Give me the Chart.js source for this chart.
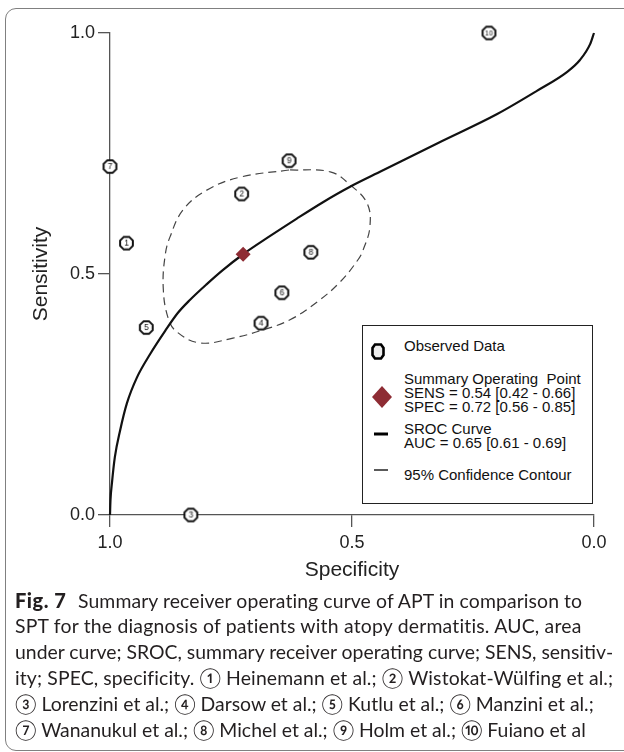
<!DOCTYPE html>
<html lang="en">
<head>
<meta charset="UTF-8">
<title>SROC curve - APT vs SPT</title>
<script src="https://cdn.jsdelivr.net/npm/chart.js"></script>
<style>
    html, body { margin: 0; padding: 0; background: #fff; }
    body {
        width: 624px;
        height: 752px;
        position: relative;
        overflow: hidden;
        font-family: "Liberation Sans", Arial, sans-serif;
    }
    .frame {
        position: absolute;
        left: 5px;
        top: 8px;
        width: 700px;
        height: 743px;
        border: 1.5px solid #808080;
        border-radius: 11px;
        box-sizing: border-box;
    }
    .chart-box {
        position: absolute;
        left: 0;
        top: 0;
        width: 624px;
        height: 590px;
    }
    .legend {
        position: absolute;
        left: 362px;
        top: 325px;
        width: 231px;
        height: 179px;
        border: 1.5px solid #222;
        box-sizing: border-box;
        background: #fff;
        color: #111;
        font-size: 15px;
    }
    .legend .t {
        position: absolute;
        left: 41px;
        line-height: 14px;
        white-space: nowrap;
    }
    .legend svg { position: absolute; }
    .caption {
        position: absolute;
        left: 15px;
        top: 587px;
        font-family: Lato, "Open Sans", sans-serif;
        font-size: 19.4px;
        line-height: 26px;
        color: #231f20;
        white-space: nowrap;
    }
    .caption div { height: 26px; }
    .caption b {
        display: inline-block;
        width: 63px;
        font-weight: 900;
        font-size: 20px;
        letter-spacing: 0.5px;
    }
</style>
</head>
<body>
<div class="frame"></div>
<div class="chart-box"><canvas id="sroc"></canvas></div>

<div class="legend">
    <svg style="left:8px;top:17px" width="14" height="17" viewBox="0 0 14 17">
        <polygon points="4,1.5 10,1.5 12.5,5 12.5,12 10,15.5 4,15.5 1.5,12 1.5,5" fill="#eee" stroke="#000" stroke-width="2.6"/>
    </svg>
    <div class="t" style="top:13px">Observed Data</div>

    <svg style="left:8px;top:59px" width="22" height="24" viewBox="0 0 22 24">
        <polygon points="11,1 21,12 11,23 1,12" fill="#8e2c34"/>
    </svg>
    <div class="t" style="top:46px">Summary Operating&nbsp; Point</div>
    <div class="t" style="top:60px">SENS = 0.54 [0.42 - 0.66]</div>
    <div class="t" style="top:74px">SPEC = 0.72 [0.56 - 0.85]</div>

    <svg style="left:10px;top:105px" width="16" height="6"><line x1="1" y1="3" x2="15" y2="3" stroke="#000" stroke-width="3"/></svg>
    <div class="t" style="top:96px">SROC Curve</div>
    <div class="t" style="top:110px">AUC = 0.65 [0.61 - 0.69]</div>

    <svg style="left:10px;top:141px" width="16" height="6"><line x1="1" y1="3" x2="15" y2="3" stroke="#000" stroke-width="1.3"/></svg>
    <div class="t" style="top:142px">95% Confidence Contour</div>
</div>

<div class="caption">
    <div><b>Fig. 7</b><span style="letter-spacing:0.1px">Summary receiver operating curve of APT in comparison to</span></div>
    <div style="letter-spacing:0.2px">SPT for the diagnosis of patients with atopy dermatitis. AUC, area</div>
    <div>under curve; SROC, summary receiver operating curve; SENS, sensitiv-</div>
    <div style="letter-spacing:0.12px">ity; SPEC, specificity. ① Heinemann et al.; ② Wistokat-Wülfing et al.;</div>
    <div>③ Lorenzini et al.; ④ Darsow et al.; ⑤ Kutlu et al.; ⑥ Manzini et al.;</div>
    <div>⑦ Wananukul et al.; ⑧ Michel et al.; ⑨ Holm et al.; ⑩ Fuiano et al</div>
</div>

<script>
    // observed studies (numbered as in the caption)
    const studyLabels = ['1', '2', '3', '4', '5', '6', '7', '8', '9', '10'];
    const studySpec = [0.966, 0.728, 0.833, 0.688, 0.925, 0.645, 1.0, 0.585, 0.630, 0.217];
    const studySens = [0.564, 0.666, 0.0, 0.398, 0.389, 0.461, 0.723, 0.545, 0.735, 1.0];

    // summary operating point
    const summarySpec = [0.725];
    const summarySens = [0.541];

    // SROC curve
    const curveSpec = [1.0, 0.999, 0.996, 0.990, 0.979, 0.965, 0.944, 0.917, 0.886, 0.860, 0.835, 0.800,
                       0.767, 0.725, 0.669, 0.614, 0.560, 0.504, 0.438, 0.322, 0.200, 0.118, 0.056,
                       0.029, 0.008, 0.0];
    const curveSens = [0.0, 0.031, 0.066, 0.120, 0.176, 0.232, 0.286, 0.334, 0.382, 0.419, 0.446, 0.479,
                       0.508, 0.541, 0.579, 0.615, 0.649, 0.681, 0.714, 0.772, 0.832, 0.880, 0.919,
                       0.944, 0.977, 1.0];

    // 95% confidence contour
    const contourSpec = [0.628, 0.545, 0.504, 0.469, 0.463, 0.477, 0.488, 0.525, 0.572, 0.628, 0.684,
                         0.746, 0.814, 0.862, 0.880, 0.890, 0.886, 0.876, 0.849, 0.800, 0.731, 0.628];
    const contourSens = [0.716, 0.712, 0.685, 0.647, 0.598, 0.550, 0.529, 0.483, 0.442, 0.405, 0.384,
                         0.367, 0.357, 0.380, 0.409, 0.471, 0.539, 0.577, 0.633, 0.674, 0.701, 0.716];

    const xTicks = [1.0, 0.5, 0.0];
    const yTicks = [0.0, 0.5, 1.0];

    const FONT = '"Liberation Sans", Arial, sans-serif';

    function toPoints(xs, ys) {
        return xs.map((x, i) => ({ x: x, y: ys[i] }));
    }

    // small octagon with the study number inside
    function makeMarker(label) {
        const c = document.createElement('canvas');
        c.width = 17;
        c.height = 17;
        const g = c.getContext('2d');
        const cx = 8.5, cy = 8.5, r = 6.9;
        g.beginPath();
        for (let i = 0; i < 8; i++) {
            const a = Math.PI / 8 + i * Math.PI / 4;
            const px = cx + r * Math.cos(a), py = cy + r * Math.sin(a);
            if (i === 0) g.moveTo(px, py); else g.lineTo(px, py);
        }
        g.closePath();
        g.fillStyle = '#fff';
        g.fill();
        g.lineWidth = 2;
        g.strokeStyle = '#111';
        g.stroke();
        g.fillStyle = '#111';
        g.textAlign = 'center';
        g.textBaseline = 'middle';
        g.font = (label.length > 1 ? '7px ' : '8.5px ') + FONT;
        g.fillText(label, cx, cy + 0.5);
        return c;
    }
    const markers = studyLabels.map(makeMarker);

    const axisColor = '#555';

    new Chart(document.getElementById('sroc'), {
        type: 'scatter',
        data: {
            datasets: [
                {
                    label: 'Summary Operating Point',
                    data: toPoints(summarySpec, summarySens),
                    pointStyle: 'rectRot',
                    pointRadius: 7.5,
                    backgroundColor: '#8e2c34',
                    borderColor: '#8e2c34',
                    borderWidth: 0,
                    clip: false,
                    order: 0
                },
                {
                    label: 'Observed Data',
                    data: toPoints(studySpec, studySens),
                    pointStyle: ctx => markers[ctx.dataIndex],
                    pointRadius: 6.5,
                    clip: false,
                    order: 1
                },
                {
                    label: 'SROC Curve',
                    data: toPoints(curveSpec, curveSens),
                    showLine: true,
                    pointRadius: 0,
                    borderColor: '#111',
                    borderWidth: 2.2,
                    cubicInterpolationMode: 'monotone',
                    clip: false,
                    order: 2
                },
                {
                    label: '95% Confidence Contour',
                    data: toPoints(contourSpec, contourSens),
                    showLine: true,
                    pointRadius: 0,
                    borderColor: '#444',
                    borderWidth: 1.2,
                    borderDash: [8, 5],
                    tension: 0.4,
                    clip: false,
                    order: 3
                }
            ]
        },
        options: {
            responsive: true,
            maintainAspectRatio: false,
            animation: false,
            layout: { padding: { left: 0, right: 30, top: 33, bottom: 0 } },
            plugins: {
                legend: { display: false },
                tooltip: { enabled: false }
            },
            scales: {
                x: {
                    type: 'linear',
                    reverse: true,
                    min: 0,
                    max: 1,
                    afterBuildTicks: s => { s.ticks = xTicks.map(v => ({ value: v })); },
                    afterFit: s => { s.height = 75; },
                    grid: { drawOnChartArea: false, drawTicks: true, tickLength: 12, color: axisColor, lineWidth: 1.3 },
                    border: { display: true, color: axisColor, width: 1.3 },
                    ticks: {
                        color: '#222',
                        padding: 5,
                        maxRotation: 0,
                        font: { family: FONT, size: 18 },
                        callback: v => Number(v).toFixed(1)
                    },
                    title: {
                        display: true,
                        text: 'Specificity',
                        color: '#222',
                        font: { family: FONT, size: 21 },
                        padding: { top: 0, bottom: 7 }
                    }
                },
                y: {
                    type: 'linear',
                    min: 0,
                    max: 1,
                    afterBuildTicks: s => { s.ticks = yTicks.map(v => ({ value: v })); },
                    afterFit: s => { s.width = 110; },
                    grid: { drawOnChartArea: false, drawTicks: true, tickLength: 12, color: axisColor, lineWidth: 1.3 },
                    border: { display: true, color: axisColor, width: 1.3 },
                    ticks: {
                        color: '#222',
                        padding: 3,
                        font: { family: FONT, size: 18 },
                        callback: v => Number(v).toFixed(1)
                    },
                    title: {
                        display: true,
                        text: 'Sensitivity',
                        color: '#222',
                        font: { family: FONT, size: 21 },
                        padding: { top: 29, bottom: 0 }
                    }
                }
            }
        }
    });
</script>
</body>
</html>
